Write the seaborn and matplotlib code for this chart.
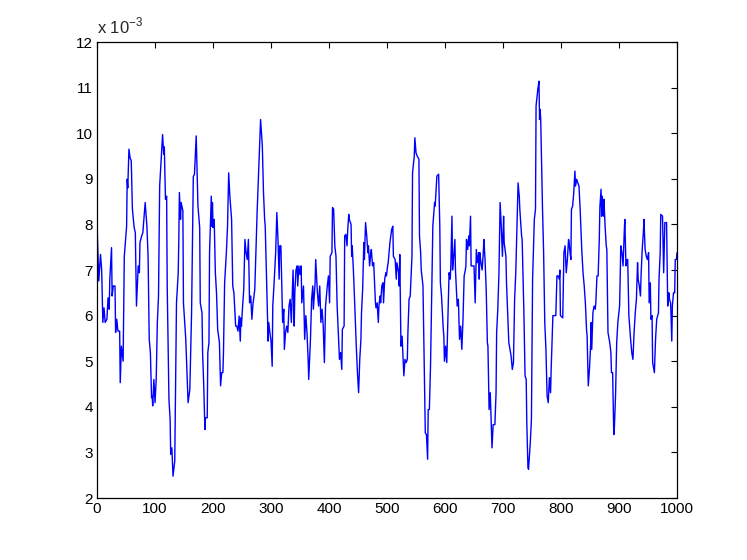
import matplotlib
matplotlib.use("Agg")
import matplotlib.pyplot as plt
import numpy as np
import seaborn as sns

# sample index and value (in units of 1e-3)
steps = [
    0, 3, 6, 8, 10, 12, 14, 17, 19, 21, 22, 25, 26, 28, 31, 32, 34, 36, 39, 40,
    42, 45, 47, 51, 52, 53, 55, 57, 59, 61, 64, 66, 68, 71, 73, 74, 77, 79, 83, 86,
    88, 90, 92, 94, 95, 96, 98, 100, 102, 104, 106, 108, 111, 113, 115, 116, 118, 120, 121, 124,
    126, 127, 129, 131, 134, 137, 140, 141, 142, 144, 145, 148, 149, 153, 157, 160, 163, 166, 168, 171,
    174, 177, 178, 181, 182, 184, 186, 187, 190, 191, 193, 194, 197, 198, 199, 200, 202, 204, 206, 208,
    211, 213, 215, 217, 218, 220, 223, 225, 227, 229, 232, 234, 236, 239, 241, 243, 245, 247, 248, 249,
    251, 253, 255, 257, 259, 261, 263, 265, 267, 269, 270, 272, 276, 279, 282, 285, 287, 289, 290, 293,
    295, 296, 298, 300, 302, 303, 305, 308, 310, 312, 314, 315, 317, 320, 322, 323, 325, 327, 329, 331,
    333, 335, 337, 338, 340, 341, 343, 345, 346, 348, 350, 352, 353, 356, 358, 360, 362, 364, 365, 368,
    370, 372, 373, 376, 377, 380, 382, 384, 386, 388, 390, 392, 394, 397, 399, 401, 402, 405, 406, 408,
    410, 412, 414, 416, 418, 420, 422, 423, 426, 427, 429, 431, 432, 434, 435, 438, 439, 440, 442, 444,
    446, 447, 449, 451, 453, 455, 456, 458, 460, 461, 463, 465, 467, 468, 470, 472, 473, 475, 477, 480,
    481, 483, 485, 486, 488, 489, 491, 493, 494, 496, 498, 499, 501, 502, 505, 508, 510, 511, 514, 516,
    517, 520, 521, 522, 524, 526, 529, 531, 533, 535, 536, 538, 540, 542, 543, 544, 547, 548, 550, 552,
    555, 556, 558, 559, 562, 564, 566, 568, 570, 571, 573, 575, 577, 579, 582, 583, 586, 589, 591, 592,
    594, 597, 598, 599, 601, 603, 605, 607, 609, 610, 612, 613, 615, 617, 618, 621, 623, 625, 627, 629,
    631, 633, 635, 636, 637, 639, 641, 642, 644, 645, 648, 650, 652, 654, 656, 658, 659, 660, 662, 664,
    666, 667, 669, 671, 673, 674, 676, 678, 681, 683, 686, 688, 689, 691, 693, 694, 695, 697, 699, 701,
    702, 705, 706, 708, 710, 712, 714, 716, 718, 720, 722, 724, 726, 728, 729, 732, 733, 736, 738, 740,
    741, 743, 744, 747, 749, 751, 754, 756, 757, 760, 762, 763, 764, 765, 766, 768, 770, 772, 774, 776,
    778, 780, 782, 783, 786, 788, 791, 793, 795, 797, 798, 799, 803, 805, 807, 809, 811, 813, 814, 815,
    817, 818, 820, 822, 824, 825, 827, 829, 831, 833, 835, 836, 838, 840, 842, 844, 845, 847, 849, 851,
    852, 853, 855, 857, 859, 860, 862, 864, 866, 867, 869, 870, 871, 873, 874, 876, 878, 879, 881, 884,
    886, 887, 889, 891, 892, 894, 896, 898, 901, 902, 903, 905, 907, 909, 910, 912, 914, 915, 917, 920,
    922, 924, 926, 928, 930, 932, 933, 935, 937, 938, 940, 942, 943, 945, 947, 949, 951, 952, 954, 955,
    957, 958, 961, 963, 965, 968, 969, 971, 972, 975, 977, 979, 981, 982, 984, 986, 987, 989, 991, 992,
    994, 996, 997, 999, 1000,
]
values = [
    8.0, 6.76, 7.34, 7.0, 5.85, 6.17, 5.85, 5.92, 6.39, 6.14, 6.8, 7.49, 6.43, 6.65, 6.65, 5.63, 5.92, 5.66, 5.66, 4.53,
    5.33, 5.0, 7.3, 7.96, 8.99, 8.8, 9.65, 9.46, 9.39, 8.33, 7.93, 7.82, 6.21, 7.09, 6.94, 7.6, 7.75, 7.82, 8.48, 7.96,
    7.3, 5.48, 5.19, 4.2, 4.24, 4.02, 4.6, 4.09, 4.6, 5.85, 6.43, 8.84, 9.54, 9.97, 9.54, 9.7, 8.55, 8.62, 6.65, 4.16,
    3.73, 2.96, 3.1, 2.48, 2.81, 6.28, 6.94, 7.67, 8.7, 8.11, 8.48, 8.3, 6.28, 5.48, 4.09, 4.38, 6.06, 9.05, 9.1, 9.94,
    8.4, 7.93, 6.28, 6.06, 5.19, 4.46, 3.5, 3.76, 3.76, 5.19, 5.41, 7.38, 8.62, 7.96, 8.48, 7.93, 8.11, 6.94, 6.5, 5.7,
    5.41, 4.46, 4.75, 4.75, 5.19, 6.72, 7.38, 7.96, 9.13, 8.62, 8.11, 6.65, 6.5, 5.77, 5.77, 5.66, 5.99, 5.44, 5.95, 5.77,
    6.21, 6.58, 7.67, 7.38, 7.23, 7.67, 6.28, 6.43, 5.92, 6.28, 6.36, 6.58, 8.26, 9.28, 10.3, 9.72, 8.7, 8.11, 7.96, 6.43,
    5.44, 5.85, 5.63, 5.44, 4.89, 6.21, 6.65, 7.38, 8.26, 7.67, 6.8, 7.53, 7.53, 5.85, 6.14, 5.26, 5.63, 5.77, 5.63, 6.21,
    6.36, 5.85, 6.65, 7.0, 5.77, 6.5, 7.0, 7.09, 6.65, 7.09, 6.9, 7.09, 6.28, 6.65, 5.48, 6.0, 5.63, 5.04, 4.6, 5.48,
    6.36, 6.65, 6.14, 6.72, 7.23, 6.5, 6.21, 6.65, 5.85, 6.14, 5.77, 4.97, 6.21, 6.65, 6.87, 6.28, 7.3, 7.38, 8.37, 8.33,
    7.53, 7.3, 6.21, 5.63, 5.04, 5.19, 4.82, 5.7, 5.77, 7.75, 7.78, 7.53, 7.82, 8.22, 8.11, 8.0, 7.3, 7.53, 7.0, 6.36,
    5.63, 5.33, 4.75, 4.31, 5.04, 5.48, 6.06, 6.58, 7.6, 7.23, 8.04, 7.75, 7.38, 7.53, 7.09, 7.38, 7.45, 7.09, 7.16, 6.28,
    6.17, 6.28, 5.85, 6.21, 6.43, 6.28, 6.65, 6.72, 6.28, 6.8, 6.94, 6.87, 7.09, 7.16, 7.6, 7.89, 7.96, 7.3, 7.23, 6.8,
    7.16, 6.94, 6.65, 7.34, 5.33, 5.55, 4.68, 5.04, 4.97, 5.04, 5.63, 6.36, 6.43, 7.0, 7.3, 9.13, 9.5, 9.9, 9.57, 9.5,
    9.43, 7.75, 7.38, 7.0, 6.65, 4.97, 3.43, 3.39, 2.85, 3.94, 3.94, 4.89, 6.5, 7.96, 8.48, 8.4, 9.06, 9.1, 7.96, 6.72,
    6.43, 5.7, 5.55, 5.0, 5.33, 4.97, 6.0, 6.94, 6.8, 7.09, 8.18, 7.0, 7.3, 7.67, 7.0, 6.21, 6.36, 5.48, 5.77, 5.26,
    5.92, 6.87, 7.0, 7.09, 7.67, 7.45, 7.75, 7.53, 8.18, 7.09, 7.09, 7.09, 6.28, 7.45, 7.16, 7.38, 6.8, 7.38, 7.16, 7.0,
    7.38, 7.67, 7.23, 6.58, 5.41, 5.33, 3.94, 4.31, 3.1, 3.61, 3.61, 4.31, 5.63, 6.14, 6.94, 7.67, 8.48, 7.96, 7.3, 8.18,
    7.6, 7.3, 6.72, 6.06, 5.41, 5.26, 5.11, 4.82, 4.97, 6.36, 6.94, 7.96, 8.91, 8.62, 8.33, 7.75, 7.67, 6.06, 4.68, 4.6,
    3.65, 2.67, 2.63, 3.21, 3.73, 6.8, 8.11, 8.33, 10.6, 10.96, 11.14, 10.3, 10.52, 10.3, 9.65, 8.4, 7.38, 5.85, 5.26, 4.24,
    4.09, 4.64, 4.31, 4.82, 6.0, 6.0, 6.0, 6.87, 6.87, 6.8, 7.0, 6.0, 5.95, 7.38, 7.53, 6.94, 7.23, 7.67, 7.6, 7.45,
    7.23, 8.33, 8.4, 8.7, 9.17, 8.84, 8.99, 8.91, 8.84, 8.33, 7.67, 7.38, 6.94, 6.65, 6.28, 5.7, 5.55, 4.46, 4.82, 5.33,
    5.85, 5.26, 6.06, 6.21, 6.14, 6.28, 6.87, 6.87, 7.67, 8.37, 8.77, 8.18, 8.62, 8.18, 8.55, 7.96, 7.53, 7.45, 5.63, 5.41,
    5.19, 4.75, 4.75, 3.39, 3.54, 4.24, 5.41, 5.85, 6.21, 6.8, 7.53, 7.38, 7.09, 7.82, 8.11, 7.09, 7.23, 7.23, 6.0, 5.48,
    5.19, 5.04, 5.63, 6.06, 6.36, 7.16, 6.8, 6.65, 6.43, 6.87, 7.45, 7.82, 8.11, 7.45, 7.3, 7.23, 7.38, 6.28, 6.72, 5.92,
    6.0, 4.97, 4.75, 5.48, 5.92, 6.06, 6.8, 7.38, 8.22, 8.18, 6.94, 8.04, 8.04, 8.04, 6.21, 6.5, 6.36, 6.28, 5.44, 6.21,
    6.5, 6.5, 7.23, 7.23, 7.38,
]

x_ticks = list(range(0, 1001, 100))
y_ticks = list(range(2, 13))

sns.set_style("white")
plt.rcParams["font.family"] = ["Liberation Sans", "DejaVu Sans"]

fig = plt.figure(figsize=(7.47, 5.6), dpi=100)
ax = fig.add_axes([0.1299, 0.1107, 0.7764, 0.8143])

sns.lineplot(x=steps, y=values, ax=ax, color="#0000ff", linewidth=1.0,
             estimator=None, sort=False)

ax.set_xlim(0, 1000)
ax.set_ylim(2, 12)
ax.set_xticks(x_ticks)
ax.set_yticks(y_ticks)
ax.set_xlabel("")
ax.set_ylabel("")

# matlab look: ticks inside, on every side
ax.tick_params(direction="in", length=4, width=0.8, top=True, right=True,
               labelsize=11, colors="black", pad=3)
for spine in ax.spines.values():
    spine.set_visible(True)
    spine.set_color("black")
    spine.set_linewidth(0.9)

# exponent label above the y axis, as matlab puts it
fig.text(0.1299, 1 - 33 / 560, r"x 10$^{\mathregular{-3}}$",
         fontsize=12, ha="left", va="baseline")

fig.savefig("out.png", dpi=100, facecolor="white")
